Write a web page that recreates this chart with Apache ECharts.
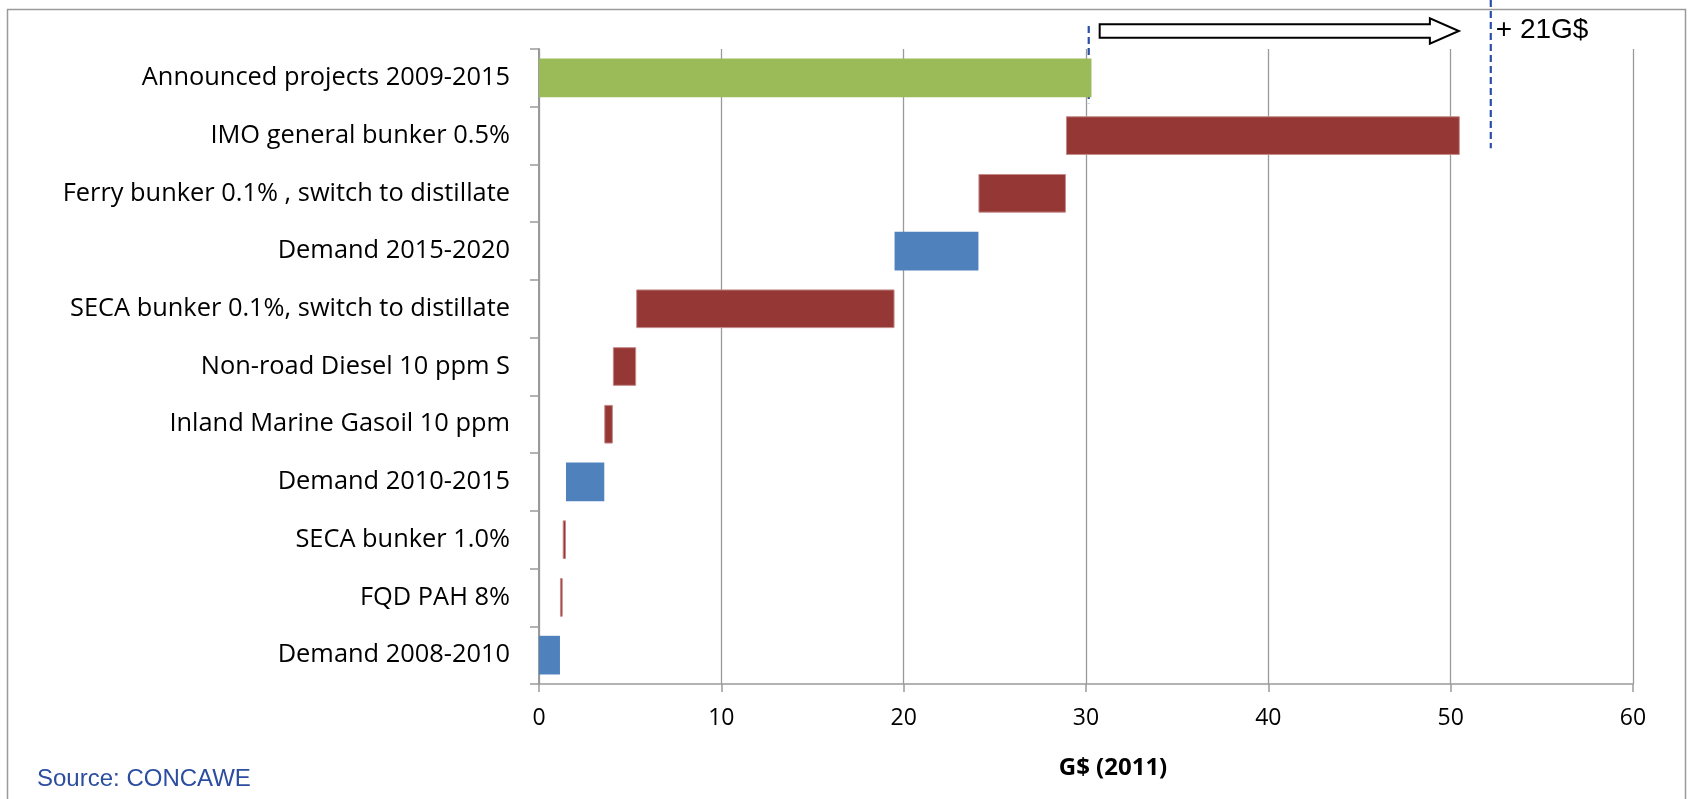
<!DOCTYPE html>
<html>
<head>
<meta charset="utf-8">
<style>
  html, body { margin: 0; padding: 0; background: #ffffff; }
  #chart { width: 1688px; height: 799px; }
</style>
<script src="https://cdn.jsdelivr.net/npm/echarts@6/dist/echarts.min.js"></script>
</head>
<body>
<div id="chart"></div>
<script>
// Refinery investment steps, top to bottom (G$ 2011)
const categories = [
  'Announced projects 2009-2015',
  'IMO general bunker 0.5%',
  'Ferry bunker 0.1% , switch to distillate',
  'Demand 2015-2020',
  'SECA bunker 0.1%, switch to distillate',
  'Non-road Diesel 10 ppm S',
  'Inland Marine Gasoil 10 ppm',
  'Demand 2010-2015',
  'SECA bunker 1.0%',
  'FQD PAH 8%',
  'Demand 2008-2010'
];
// where each step begins and ends on the cumulative scale
const stepStart = [0, 28.9, 24.1, 19.5, 5.33, 4.05, 3.58, 1.48, 1.3, 1.15, 0];
const stepEnd   = [30.3, 50.5, 28.9, 24.1, 19.5, 5.33, 4.05, 3.58, 1.48, 1.3, 1.15];
// what drives each step
const stepKind = ['projects', 'regulation', 'regulation', 'demand', 'regulation',
                  'regulation', 'regulation', 'demand', 'regulation', 'regulation', 'demand'];

const xTicks = [0, 10, 20, 30, 40, 50, 60];

// annotation: announced capacity vs. cumulative need
const announcedLevel = 30.15;
const requiredLevel = 52.2;
const gapArrow = [30.75, 50.45];
const gapLabel = '+ 21G$';

const kindStyle = {
  projects:   { color: '#9BBB59' },
  demand:     { color: '#4F81BD' },
  regulation: { color: '#953735', borderColor: '#C58A88', borderWidth: 1 }
};

const GRID = { left: 539, right: 55, top: 49, bottom: 115 };
const AXIS_GREY = '#9a9a9a';

const chart = echarts.init(document.getElementById('chart'), null, { renderer: 'canvas' });

chart.setOption({
  animation: false,
  backgroundColor: '#ffffff',
  grid: GRID,
  xAxis: {
    type: 'value',
    min: xTicks[0],
    max: xTicks[xTicks.length - 1],
    interval: xTicks[1] - xTicks[0],
    axisLine: { show: true, lineStyle: { color: AXIS_GREY, width: 1.5 } },
    axisTick: { show: true, length: 8, lineStyle: { color: AXIS_GREY, width: 1.5 } },
    splitLine: { show: true, lineStyle: { color: AXIS_GREY, width: 1.3 } },
    axisLabel: {
      color: '#000000',
      fontFamily: 'Open Sans',
      fontSize: 23,
      margin: 23
    }
  },
  yAxis: {
    type: 'category',
    inverse: true,
    data: categories,
    axisLine: { show: true, lineStyle: { color: AXIS_GREY, width: 2 } },
    axisTick: { show: true, length: 9, lineStyle: { color: AXIS_GREY, width: 1.5 } },
    splitLine: { show: false },
    axisLabel: {
      color: '#000000',
      fontFamily: 'Open Sans',
      fontSize: 25.4,
      margin: 29
    }
  },
  series: [
    {
      name: 'offset',
      type: 'bar',
      stack: 'steps',
      barCategoryGap: '33%',
      silent: true,
      itemStyle: { color: 'rgba(0,0,0,0)' },
      data: stepStart
    },
    {
      name: 'step',
      type: 'bar',
      stack: 'steps',
      barCategoryGap: '33%',
      data: stepEnd.map((end, i) => ({
        value: +(end - stepStart[i]).toFixed(3),
        itemStyle: kindStyle[stepKind[i]]
      }))
    }
  ]
});

// overlay: frame, level markers, gap arrow and texts
function px(v) { return chart.convertToPixel({ xAxisIndex: 0 }, v); }
function rowCenter(i) { return chart.convertToPixel({ yAxisIndex: 0 }, categories[i]); }

const gridTop = GRID.top;
const rowH = (799 - GRID.top - GRID.bottom) / categories.length;
const xA = px(announcedLevel);
const xR = px(requiredLevel);
const ax0 = px(gapArrow[0]);
const ax1 = px(gapArrow[1]);
const ay = gridTop - 18;
const headLen = 29;

chart.setOption({
  graphic: [
    {
      type: 'rect',
      silent: true,
      shape: { x: 7.5, y: 9.5, width: 1678, height: 820 },
      style: { fill: 'none', stroke: '#9a9a9a', lineWidth: 1.5 }
    },
    {
      type: 'line',
      silent: true,
      shape: { x1: xA, y1: gridTop - 23, x2: xA, y2: rowCenter(0) + rowH * 0.44 },
      style: { stroke: '#2A50A6', lineWidth: 2.2, lineDash: [7, 4] }
    },
    {
      type: 'line',
      silent: true,
      shape: { x1: xR, y1: 0, x2: xR, y2: rowCenter(1) + rowH * 0.22 },
      style: { stroke: '#2A50A6', lineWidth: 2.2, lineDash: [7, 4] }
    },
    {
      type: 'polygon',
      silent: true,
      shape: {
        points: [
          [ax0, ay - 6.7], [ax1 - headLen, ay - 6.7], [ax1 - headLen, ay - 12.7],
          [ax1, ay], [ax1 - headLen, ay + 12.7], [ax1 - headLen, ay + 6.7], [ax0, ay + 6.7]
        ]
      },
      style: { fill: '#ffffff', stroke: '#000000', lineWidth: 2 }
    },
    {
      type: 'text',
      silent: true,
      style: {
        x: xR + 5, y: ay - 1,
        text: gapLabel,
        fill: '#000000',
        font: '28px "Liberation Sans", Arial, sans-serif',
        align: 'left', verticalAlign: 'middle'
      }
    },
    {
      type: 'text',
      silent: true,
      style: {
        x: 1113, y: 768,
        text: 'G$ (2011)',
        fill: '#000000',
        font: 'bold 24px "Open Sans", sans-serif',
        align: 'center', verticalAlign: 'middle'
      }
    },
    {
      type: 'text',
      silent: true,
      style: {
        x: 37, y: 779,
        text: 'Source: CONCAWE',
        fill: '#2C4EA0',
        font: '24px "Liberation Sans", Arial, sans-serif',
        align: 'left', verticalAlign: 'middle'
      }
    }
  ]
});
</script>
</body>
</html>
